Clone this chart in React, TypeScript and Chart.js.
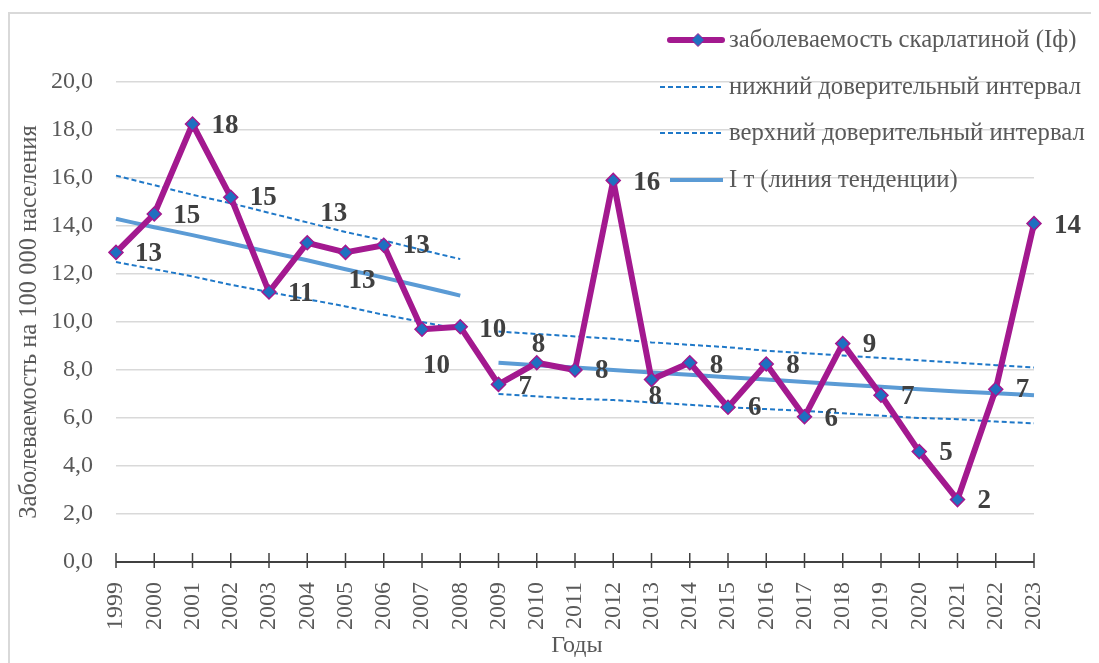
import React, { useEffect, useRef } from "react";
import { Chart, registerables } from "chart.js";

Chart.register(...registerables);

const years = ["1999","2000","2001","2002","2003","2004","2005","2006","2007","2008","2009","2010","2011","2012","2013","2014","2015","2016","2017","2018","2019","2020","2021","2022","2023"];

const incidence = [12.9, 14.5, 18.25, 15.2, 11.25, 13.3, 12.9, 13.2, 9.7, 9.8, 7.4, 8.3, 8.0, 15.9, 7.6, 8.3, 6.45, 8.25, 6.05, 9.1, 6.95, 4.6, 2.6, 7.2, 14.1];

const incidenceLabels = ["13","15","18","15","11","13","13","13","10","10","7","8","8","16","8","8","6","8","6","9","7","5","2","7","14"];

const N = null;
const lowerCI1 = [12.5, 12.2, 11.9, 11.55, 11.25, 10.95, 10.65, 10.3, 10.0, 9.7, N, N, N, N, N, N, N, N, N, N, N, N, N, N, N];
const lowerCI2 = [N, N, N, N, N, N, N, N, N, N, 7.0, 6.9, 6.8, 6.75, 6.65, 6.55, 6.45, 6.37, 6.3, 6.2, 6.1, 6.0, 5.95, 5.85, 5.78];
const upperCI1 = [16.1, 15.7, 15.3, 14.95, 14.55, 14.15, 13.75, 13.4, 13.0, 12.62, N, N, N, N, N, N, N, N, N, N, N, N, N, N, N];
const upperCI2 = [N, N, N, N, N, N, N, N, N, N, 9.6, 9.5, 9.4, 9.3, 9.15, 9.05, 8.95, 8.8, 8.7, 8.6, 8.5, 8.4, 8.3, 8.2, 8.1];
const trend1 = [14.3, 13.95, 13.62, 13.27, 12.92, 12.57, 12.2, 11.85, 11.48, 11.1, N, N, N, N, N, N, N, N, N, N, N, N, N, N, N];
const trend2 = [N, N, N, N, N, N, N, N, N, N, 8.3, 8.2, 8.1, 8.0, 7.9, 7.8, 7.7, 7.6, 7.5, 7.4, 7.3, 7.2, 7.1, 7.03, 6.95];

const yTicks = [0, 2, 4, 6, 8, 10, 12, 14, 16, 18, 20];

const legendLabels = [
  "заболеваемость скарлатиной (Iф)",
  "нижний доверительный интервал",
  "верхний доверительный интервал",
  "I т (линия тенденции)",
];

const yTitle = "Заболеваемость на 100 000 населения";
const xTitle = "Годы";

// label offsets (left edge dx, center dy) relative to point
const labelOffsets: [number, number][] = [
  [19, 2], [19, 2], [19, 2], [19, 1], [19, 2], [13, -29], [3, 29], [19, 1], [1, 37], [19, 3],
  [20, 3], [-5, -18], [20, 1], [20, 3], [-3, 17], [20, 3], [20, 1], [20, 2], [20, 2], [20, 1],
  [20, 2], [20, 1], [20, 1], [20, 1], [20, 2],
];

const PURPLE = "#A3198F";
const MARKER = "#1F6FC0";
const DASH = "#1F78C8";
const TREND = "#5B9BD5";
const TEXT = "#595959";
const SERIF = "'Liberation Serif', 'Times New Roman', serif";

export default function App() {
  const ref = useRef<HTMLCanvasElement | null>(null);

  useEffect(() => {
    if (!ref.current) return;

    const decorPlugin = {
      id: "decor",
      beforeDraw(chart: any) {
        const { ctx } = chart;
        ctx.save();
        ctx.strokeStyle = "#d9d9d9";
        ctx.lineWidth = 2;
        ctx.beginPath();
        ctx.moveTo(1, 655);
        ctx.lineTo(1, 5);
        ctx.lineTo(1091, 5);
        ctx.stroke();
        ctx.restore();
      },
      beforeDatasetsDraw(chart: any) {
        const { ctx, chartArea } = chart;
        const x = chart.scales.x;
        const y0 = chartArea.bottom;
        ctx.save();
        ctx.strokeStyle = "#000";
        ctx.lineWidth = 1.5;
        ctx.beginPath();
        ctx.moveTo(chartArea.left, y0);
        ctx.lineTo(chartArea.right, y0);
        ctx.stroke();
        ctx.strokeStyle = "#404040";
        ctx.lineWidth = 1.5;
        for (let i = 0; i < years.length; i++) {
          const px = x.getPixelForValue(i);
          ctx.beginPath();
          ctx.moveTo(px, y0 - 9);
          ctx.lineTo(px, y0 + 6);
          ctx.stroke();
        }
        // axis titles
        ctx.fillStyle = TEXT;
        ctx.font = `24.5px ${SERIF}`;
        ctx.textAlign = "center";
        ctx.textBaseline = "middle";
        ctx.save();
        ctx.translate(22, (chartArea.top + chartArea.bottom) / 2);
        ctx.rotate(-Math.PI / 2);
        ctx.fillText(yTitle, 0, 0);
        ctx.restore();
        ctx.font = `24px ${SERIF}`;
        ctx.fillText(xTitle, 569, 638);
        ctx.restore();
      },
      afterDatasetsDraw(chart: any) {
        const { ctx } = chart;
        const meta = chart.getDatasetMeta(0);
        ctx.save();
        ctx.fillStyle = "#404040";
        ctx.font = `bold 27px ${SERIF}`;
        ctx.textAlign = "left";
        ctx.textBaseline = "middle";
        meta.data.forEach((pt: any, i: number) => {
          const [dx, dy] = labelOffsets[i];
          ctx.fillText(incidenceLabels[i], pt.x + dx, pt.y + dy);
        });
        ctx.restore();

        // legend
        ctx.save();
        const rows = [32, 79, 125, 172];
        ctx.font = `24.7px ${SERIF}`;
        ctx.fillStyle = TEXT;
        ctx.textAlign = "left";
        ctx.textBaseline = "middle";
        ctx.strokeStyle = PURPLE;
        ctx.lineWidth = 6;
        ctx.lineCap = "round";
        ctx.beginPath();
        ctx.moveTo(662, rows[0]);
        ctx.lineTo(714, rows[0]);
        ctx.stroke();
        ctx.lineCap = "butt";
        ctx.fillStyle = MARKER;
        ctx.strokeStyle = PURPLE;
        ctx.lineWidth = 1;
        ctx.beginPath();
        ctx.moveTo(690, rows[0] - 6.5);
        ctx.lineTo(696.5, rows[0]);
        ctx.lineTo(690, rows[0] + 6.5);
        ctx.lineTo(683.5, rows[0]);
        ctx.closePath();
        ctx.fill();
        ctx.stroke();
        ctx.strokeStyle = DASH;
        ctx.lineWidth = 2;
        ctx.setLineDash([5, 3]);
        [rows[1], rows[2]].forEach((ry) => {
          ctx.beginPath();
          ctx.moveTo(652, ry);
          ctx.lineTo(714, ry);
          ctx.stroke();
        });
        ctx.setLineDash([]);
        ctx.strokeStyle = TREND;
        ctx.lineWidth = 4;
        ctx.beginPath();
        ctx.moveTo(662, rows[3]);
        ctx.lineTo(715, rows[3]);
        ctx.stroke();
        ctx.fillStyle = TEXT;
        legendLabels.forEach((t, i) => ctx.fillText(t, 721, rows[i] + 1));
        ctx.restore();
      },
    };

    const dashed = (data: (number | null)[]) => ({
      data,
      borderColor: DASH,
      borderWidth: 2,
      borderDash: [5, 3],
      pointRadius: 0,
      fill: false,
      spanGaps: false,
      tension: 0,
    });
    const trend = (data: (number | null)[]) => ({
      data,
      borderColor: TREND,
      borderWidth: 4,
      pointRadius: 0,
      fill: false,
      spanGaps: false,
      cubicInterpolationMode: "monotone" as const,
    });

    const chart = new Chart(ref.current, {
      type: "line",
      data: {
        labels: years,
        datasets: [
          {
            label: legendLabels[0],
            data: incidence,
            borderColor: PURPLE,
            borderWidth: 6,
            borderJoinStyle: "round",
            pointStyle: "rectRot",
            pointRadius: 7,
            pointBackgroundColor: MARKER,
            pointBorderColor: PURPLE,
            pointBorderWidth: 1.5,
            tension: 0,
            fill: false,
          } as any,
          { label: legendLabels[1], ...dashed(lowerCI1) },
          { label: legendLabels[1], ...dashed(lowerCI2) },
          { label: legendLabels[2], ...dashed(upperCI1) },
          { label: legendLabels[2], ...dashed(upperCI2) },
          { label: legendLabels[3], ...trend(trend1) },
          { label: legendLabels[3], ...trend(trend2) },
        ],
      },
      options: {
        responsive: false,
        animation: false,
        layout: { padding: { left: 0, right: 65, top: 74, bottom: 0 } },
        plugins: { legend: { display: false }, tooltip: { enabled: false } },
        scales: {
          x: {
            type: "category",
            offset: false,
            grid: { display: false },
            border: { display: false },
            ticks: {
              minRotation: 90,
              maxRotation: 90,
              autoSkip: false,
              padding: 12,
              color: TEXT,
              font: { family: SERIF, size: 24 },
            },
            afterFit: (s: any) => { s.height = 101; },
          },
          y: {
            min: 0,
            max: 20,
            afterBuildTicks: (s: any) => { s.ticks = yTicks.map((v) => ({ value: v })); },
            grid: {
              drawTicks: false,
              color: (c: any) => (c.tick && c.tick.value === 0 ? "rgba(0,0,0,0)" : "#d9d9d9"),
              lineWidth: 1.5,
            },
            border: { display: false },
            ticks: {
              padding: 23,
              color: TEXT,
              font: { family: SERIF, size: 24 },
              callback: (v: any) => Number(v).toFixed(1).replace(".", ","),
            },
            afterFit: (s: any) => { s.width = 108; },
          },
        },
      },
      plugins: [decorPlugin],
    });

    return () => chart.destroy();
  }, []);

  return (
    <div style={{ width: 1091, height: 655 }}>
      <canvas ref={ref} width={1091} height={655} style={{ display: "block" }} />
    </div>
  );
}
